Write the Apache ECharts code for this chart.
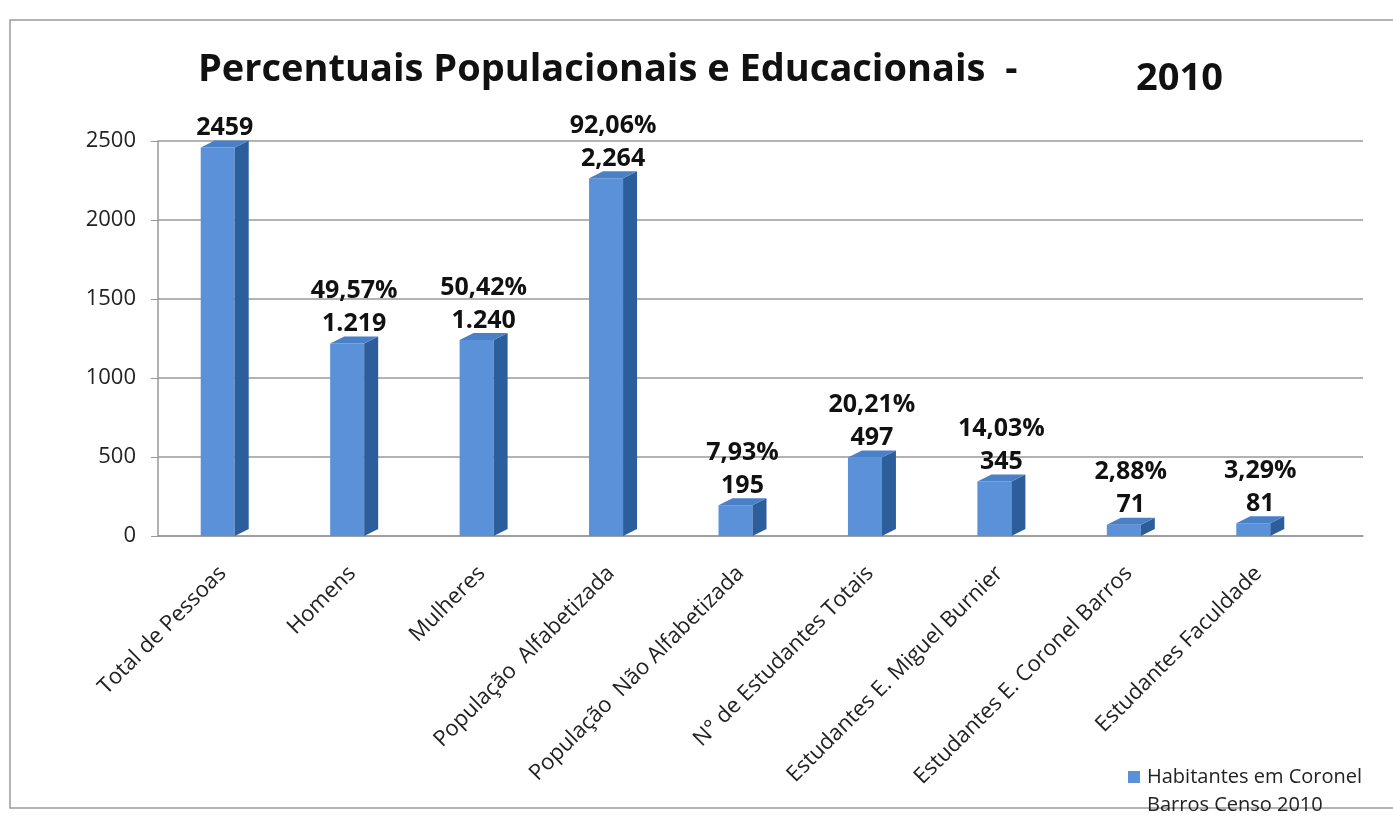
<!DOCTYPE html>
<html>
<head>
<meta charset="utf-8">
<script src="https://cdn.jsdelivr.net/npm/echarts@6/dist/echarts.min.js"></script>
<style>
  html, body { margin: 0; padding: 0; background: #ffffff; }
  #chart { width: 1393px; height: 825px; }
</style>
</head>
<body>
<div id="chart"></div>
<script>
// Categories and census values
const categories = [
  'Total de Pessoas',
  'Homens',
  'Mulheres',
  'População  Alfabetizada',
  'População  Não Alfabetizada',
  'N° de Estudantes Totais',
  'Estudantes E. Miguel Burnier',
  'Estudantes E. Coronel Barros',
  'Estudantes Faculdade'
];
const values = [2459, 1219, 1240, 2264, 195, 497, 345, 71, 81];
const valueLabels = ['2459', '1.219', '1.240', '2,264', '195', '497', '345', '71', '81'];
const percentLabels = ['', '49,57%', '50,42%', '92,06%', '7,93%', '20,21%', '14,03%', '2,88%', '3,29%'];
const yTicks = [0, 500, 1000, 1500, 2000, 2500];
const seriesName = 'Habitantes em Coronel\nBarros Censo 2010';

const FRONT = '#5b91d8';
const SIDE = '#2d5e9c';
const TOP = '#4a80c6';
const LABEL_FONT = { fontFamily: 'Open Sans', fontWeight: 'bold', fontSize: 25, fill: '#111' };
const Y_MAX = yTicks[yTicks.length - 1];
const Y_STEP = yTicks[1] - yTicks[0];

const chart = echarts.init(document.getElementById('chart'), null, { renderer: 'canvas' });

// Box-shaped bar: front face, darker side face, top face and the two-line value label
function renderBox(params, api) {
  const idx = params.dataIndex;
  const topPt = api.coord([api.value(0), api.value(1)]);
  const basePt = api.coord([api.value(0), 0]);
  const fw = 34, sw = 14, dy = 7;
  const x0 = topPt[0] - 22;
  const x1 = x0 + fw;
  const x2 = x1 + sw;
  const yt = topPt[1];
  const yb = basePt[1];
  const mid = (x0 + x2) / 2;
  const children = [
    { type: 'rect', shape: { x: x0, y: yt, width: fw, height: yb - yt }, style: { fill: FRONT } },
    { type: 'polygon', shape: { points: [[x1, yt], [x2, yt - dy], [x2, yb - dy], [x1, yb]] }, style: { fill: SIDE } },
    { type: 'polygon', shape: { points: [[x0, yt], [x1, yt], [x2, yt - dy], [x0 + sw, yt - dy]] }, style: { fill: TOP } },
    { type: 'text', style: Object.assign({ text: valueLabels[idx], x: mid, y: yt - dy, align: 'center', verticalAlign: 'bottom' }, LABEL_FONT) }
  ];
  if (percentLabels[idx]) {
    children.push({ type: 'text', style: Object.assign({ text: percentLabels[idx], x: mid, y: yt - dy - 33, align: 'center', verticalAlign: 'bottom' }, LABEL_FONT) });
  }
  return { type: 'group', children: children };
}

const option = {
  backgroundColor: '#ffffff',
  animation: false,
  textStyle: { fontFamily: 'Open Sans' },
  title: [
    { text: 'Percentuais Populacionais e Educacionais  -', left: 193, top: 46,
      textStyle: { fontFamily: 'Open Sans', fontWeight: 'bold', fontSize: 38, color: '#111' } },
    { text: '2010', left: 1131, top: 55,
      textStyle: { fontFamily: 'Open Sans', fontWeight: 'bold', fontSize: 38, color: '#111' } }
  ],
  grid: [
    // bars, category labels and value axis labels
    { left: 158, width: 1165, top: 141, height: 395 },
    // wider back wall carrying the horizontal gridlines
    { left: 158, width: 1205, top: 141, height: 395 }
  ],
  xAxis: [
    {
      type: 'category', gridIndex: 0,
      data: categories,
      axisLine: { show: false },
      axisTick: { show: false },
      axisLabel: { rotate: 45, interval: 0, margin: 34, fontFamily: 'Open Sans', fontSize: 22, color: '#222' }
    },
    {
      type: 'value', gridIndex: 1, min: 0, max: 1,
      axisLine: { show: true, lineStyle: { color: '#999', width: 1.5 } },
      axisTick: { show: false }, axisLabel: { show: false }, splitLine: { show: false }
    }
  ],
  yAxis: [
    {
      type: 'value', gridIndex: 0,
      min: 0, max: Y_MAX, interval: Y_STEP,
      axisLine: { show: true, lineStyle: { color: '#999', width: 1.5 } },
      axisTick: { show: true, length: 7, lineStyle: { color: '#999' } },
      axisLabel: { margin: 22, fontFamily: 'Open Sans', fontSize: 22, color: '#222', formatter: v => String(v) },
      splitLine: { show: false }
    },
    {
      type: 'value', gridIndex: 1,
      min: 0, max: Y_MAX, interval: Y_STEP,
      axisLine: { show: false }, axisTick: { show: false }, axisLabel: { show: false },
      splitLine: { show: true, lineStyle: { color: '#9a9a9a', width: 1.5 } }
    }
  ],
  series: [{
    name: seriesName,
    type: 'custom',
    xAxisIndex: 0, yAxisIndex: 0,
    itemStyle: { color: FRONT },
    renderItem: renderBox,
    encode: { x: 0, y: 1 },
    data: values.map((v, i) => [i, v]),
    clip: false,
    z: 3
  }],
  graphic: [
    {
      type: 'rect', silent: true, z: -1,
      shape: { x: 10, y: 20, width: 1400, height: 788 },
      style: { fill: 'none', stroke: '#9a9a9a', lineWidth: 1.5 }
    },
    // legend key
    {
      type: 'rect', silent: true,
      shape: { x: 1128, y: 771, width: 12, height: 12 },
      style: { fill: FRONT }
    },
    {
      type: 'text', silent: true,
      style: {
        text: seriesName, x: 1147, y: 763,
        fontFamily: 'Open Sans', fontSize: 20, lineHeight: 28, fill: '#222',
        align: 'left', verticalAlign: 'top'
      }
    }
  ]
};

chart.setOption(option);
</script>
</body>
</html>
